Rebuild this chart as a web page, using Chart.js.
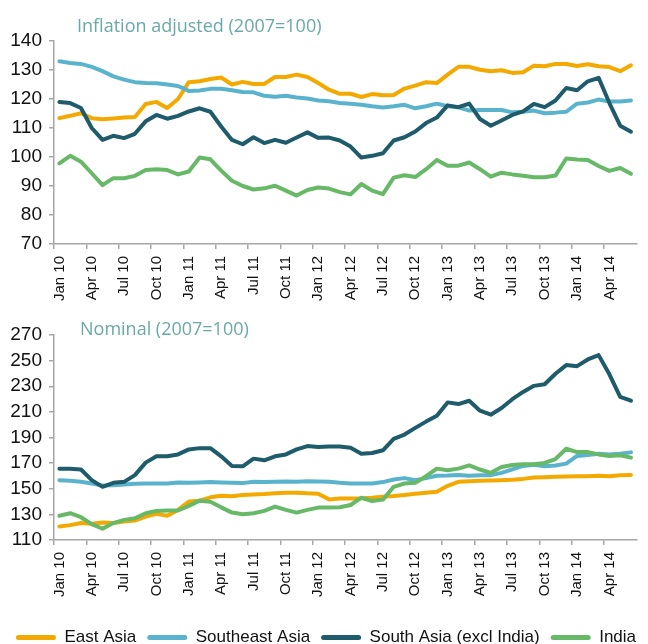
<!DOCTYPE html>
<html>
<head>
<meta charset="utf-8">
<script src="https://cdn.jsdelivr.net/npm/chart.js@4"></script>
<style>
html,body{margin:0;padding:0;background:#fff;overflow:hidden;width:648px;height:644px;}
#wrap{position:relative;width:648px;height:644px;overflow:hidden;background:#fff;}
.box{position:absolute;left:0;width:656px;}
#c1box{top:0;height:310px;}
#c2box{top:310px;height:346px;}
.ttl{position:absolute;font-family:"Open Sans",sans-serif;font-size:18px;line-height:18px;color:#6aa9aa;white-space:nowrap;z-index:2;}
#t1{left:77px;top:16px;}
#t2{left:80px;top:319px;}
</style>
</head>
<body>
<div id="wrap">
  <div class="ttl" id="t1">Inflation adjusted (2007=100)</div>
  <div class="ttl" id="t2">Nominal (2007=100)</div>
  <div class="box" id="c1box"><canvas id="c1"></canvas></div>
  <div class="box" id="c2box"><canvas id="c2"></canvas></div>
</div>
<script>
const categories = [
  "Jan 10","Feb 10","Mar 10","Apr 10","May 10","Jun 10","Jul 10","Aug 10","Sep 10","Oct 10","Nov 10","Dec 10",
  "Jan 11","Feb 11","Mar 11","Apr 11","May 11","Jun 11","Jul 11","Aug 11","Sep 11","Oct 11","Nov 11","Dec 11",
  "Jan 12","Feb 12","Mar 12","Apr 12","May 12","Jun 12","Jul 12","Aug 12","Sep 12","Oct 12","Nov 12","Dec 12",
  "Jan 13","Feb 13","Mar 13","Apr 13","May 13","Jun 13","Jul 13","Aug 13","Sep 13","Oct 13","Nov 13","Dec 13",
  "Jan 14","Feb 14","Mar 14","Apr 14","May 14","Jun 14"
];
const seriesNames = ["East Asia","Southeast Asia","South Asia (excl India)","India"];

// Inflation adjusted (2007=100)
const eastAsiaReal = [113.4,114.2,115.1,113.4,113.0,113.3,113.6,113.8,118.3,119.0,116.9,120.0,
  125.8,126.1,126.9,127.4,125.0,125.9,125.2,125.2,127.6,127.6,128.4,127.6,
  125.5,123.2,121.8,121.8,120.7,121.7,121.3,121.4,123.6,124.6,125.8,125.5,
  128.4,131.1,131.1,130.1,129.6,129.9,129.0,129.2,131.5,131.3,132.1,132.1,
  131.4,132.0,131.3,131.0,129.6,131.6];
const southeastAsiaReal = [133.0,132.4,132.1,131.1,129.6,127.8,126.7,125.8,125.5,125.4,125.0,124.5,
  122.8,122.9,123.5,123.5,123.0,122.4,122.3,121.1,120.8,121.1,120.5,120.2,
  119.5,119.2,118.6,118.4,118.0,117.5,117.1,117.5,118.0,116.8,117.5,118.4,
  117.5,117.1,116.0,116.2,116.2,116.2,115.4,115.6,116.0,115.1,115.3,115.6,
  118.4,118.8,119.8,119.1,119.1,119.5];
const southAsiaReal = [119.0,118.6,116.9,110.0,105.9,107.3,106.5,108.0,112.3,114.5,113.2,114.2,
  115.7,116.8,115.6,110.5,105.9,104.4,106.8,104.8,105.9,104.9,106.7,108.5,
  106.6,106.7,105.7,103.6,99.8,100.4,101.3,105.7,106.8,108.8,111.7,113.6,
  117.8,117.2,118.4,113.1,110.8,112.6,114.5,115.7,118.3,117.2,119.5,123.8,
  123.0,126.1,127.3,118.6,110.8,108.7];
const indiaReal = [97.8,100.4,98.4,94.4,90.3,92.7,92.7,93.5,95.5,95.8,95.5,94.0,
  95.0,99.8,99.2,95.3,91.8,90.0,88.8,89.2,90.1,88.4,86.7,88.6,
  89.5,89.1,87.9,87.1,90.7,88.4,87.2,92.9,93.7,93.1,95.8,99.0,
  97.0,97.0,98.1,95.8,93.2,94.6,94.0,93.5,93.0,93.0,93.6,99.5,
  99.1,99.0,96.9,95.2,96.2,94.2];

// Nominal (2007=100)
const eastAsiaNominal = [120.6,121.6,123.2,122.6,123.7,123.2,124.5,125.2,128.3,130.4,128.9,133.5,
  140.0,140.7,143.3,144.6,144.1,145.1,145.6,145.9,146.4,146.9,146.9,146.4,
  146.1,141.7,142.3,142.3,142.5,143.0,143.8,144.3,145.1,146.1,146.9,147.7,
  152.3,155.4,155.9,156.2,156.5,156.7,157.0,157.7,158.8,159.0,159.3,159.5,
  159.8,159.8,160.1,159.8,160.6,160.8];
const southeastAsiaNominal = [156.7,156.2,155.4,154.1,152.6,152.8,153.4,153.9,154.1,154.1,154.1,154.9,
  154.6,154.9,155.2,154.9,154.6,154.4,155.4,155.2,155.4,155.7,155.4,155.9,
  155.7,155.4,154.6,154.1,154.1,154.1,155.2,157.2,158.3,156.7,158.3,160.1,
  160.3,160.8,160.1,160.6,160.6,162.4,165.2,167.8,168.8,167.5,168.1,169.6,
  175.6,176.3,177.4,176.8,177.4,178.4];
const southAsiaNominal = [165.7,165.7,165.0,156.7,151.5,154.6,155.4,160.6,170.4,175.3,175.3,176.8,
  180.7,181.7,181.7,175.3,167.8,167.5,173.5,172.2,175.3,176.8,180.7,183.3,
  182.5,183.0,183.0,182.0,177.4,177.9,180.0,189.0,192.3,197.5,202.4,207.0,
  217.4,216.1,218.7,210.9,207.8,213.0,219.9,225.6,230.3,231.6,239.8,246.5,
  245.7,250.9,254.3,239.3,221.7,218.7];
const indiaNominal = [128.9,130.9,127.8,122.4,118.8,123.2,125.7,127.0,130.9,132.7,133.0,133.0,
  136.6,140.7,139.9,135.5,131.4,130.1,130.9,132.7,136.1,133.5,131.4,133.5,
  135.3,135.3,135.5,137.3,143.0,140.4,141.5,151.5,154.1,154.6,159.8,165.7,
  164.5,165.7,168.3,165.0,162.4,167.0,168.6,169.1,169.1,170.1,173.2,181.2,
  178.6,178.6,176.8,175.6,176.1,174.3];

const realTicks = {min:70, max:140, step:10};
const nominalTicks = {min:110, max:270, step:20};

const colors = ['#f3a900','#5ab3cc','#1e5c6b','#67b968'];
const axisGrey = '#a6a6a6';
const tickFont = '"Liberation Sans", Arial, sans-serif';

function datasets(arrs){
  return arrs.map((d,i)=>({
    label: seriesNames[i],
    data: d,
    borderColor: colors[i],
    backgroundColor: colors[i],
    borderWidth: 4,
    pointRadius: 0,
    tension: 0,
    fill: false,
    borderJoinStyle: 'round',
    borderCapStyle: 'round',
    order: 4 - i
  }));
}

function options(t, xHeight, padTop, showLegend){
  return {
    responsive: true,
    maintainAspectRatio: false,
    animation: false,
    events: [],
    layout: {padding: {top: padTop, right: 4, left: 0, bottom: 0}},
    plugins: {
      tooltip: {enabled:false},
      legend: showLegend ? {
        display: true,
        position: 'bottom',
        align: 'center',
        labels: {
          boxWidth: 40,
          boxHeight: 5,
          padding: 11,
          color: '#111',
          font: {family: tickFont, size: 17},
          useBorderRadius: true,
          borderRadius: 2.5,
          sort: (a,b) => a.datasetIndex - b.datasetIndex,
          generateLabels: (chart) => Chart.defaults.plugins.legend.labels.generateLabels(chart)
            .map(l => Object.assign({}, l, {lineWidth: 0, fillStyle: l.strokeStyle}))
        }
      } : {display:false}
    },
    scales: {
      x: {
        type: 'category',
        offset: true,
        grid: {
          offset: true,
          drawOnChartArea: false,
          drawTicks: true,
          tickLength: 5,
          lineWidth: 1.5,
          color: (ctx) => (ctx.index !== undefined && ctx.index % 3 === 0) ? axisGrey : 'rgba(0,0,0,0)'
        },
        border: {display: true, color: axisGrey, width: 1.5},
        ticks: {
          autoSkip: false,
          maxRotation: 90,
          minRotation: 90,
          padding: 7,
          color: '#111',
          font: {family: tickFont, size: 15},
          callback: (v, i) => (i % 3 === 0 ? categories[i] : '')
        },
        afterFit: (s) => { s.height = xHeight; }
      },
      y: {
        min: t.min,
        max: t.max,
        ticks: {
          stepSize: t.step,
          autoSkip: false,
          padding: 7,
          color: '#111',
          font: {family: tickFont, size: 19}
        },
        grid: {drawOnChartArea: false, drawTicks: true, tickLength: 5, lineWidth: 1.5, color: axisGrey},
        border: {display: true, color: axisGrey, width: 1.5},
        afterFit: (s) => { s.width = 54; }
      }
    }
  };
}

new Chart(document.getElementById('c1'), {
  type: 'line',
  data: {labels: categories, datasets: datasets([eastAsiaReal, southeastAsiaReal, southAsiaReal, indiaReal])},
  options: options(realTicks, 66, 41, false)
});

new Chart(document.getElementById('c2'), {
  type: 'line',
  data: {labels: categories, datasets: datasets([eastAsiaNominal, southeastAsiaNominal, southAsiaNominal, indiaNominal])},
  options: options(nominalTicks, 78, 25, true)
});
</script>
</body>
</html>
